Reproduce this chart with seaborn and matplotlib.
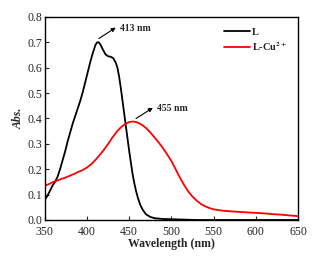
import numpy as np
import pandas as pd
import matplotlib
matplotlib.use("Agg")
import matplotlib.pyplot as plt
import seaborn as sns

# absorption spectra of L and L-Cu2+
wl_L = [350, 353, 356, 359, 362, 365, 368, 371, 374, 377, 380, 383, 386, 389,
        392, 395, 398, 401, 404, 407, 410, 412, 414, 416, 419, 422, 425, 428,
        431, 434, 436, 438, 440, 442, 444, 446, 448, 450, 452, 454, 456, 458,
        460, 463, 466, 470, 475, 480, 490, 500, 510, 520, 530, 650]
abs_L = [0.08, 0.095, 0.115, 0.135, 0.15, 0.17, 0.2, 0.235, 0.27, 0.31, 0.345,
         0.38, 0.41, 0.44, 0.47, 0.505, 0.545, 0.585, 0.625, 0.66, 0.69, 0.70,
         0.70, 0.69, 0.67, 0.652, 0.645, 0.643, 0.638, 0.62, 0.60, 0.565, 0.52,
         0.47, 0.42, 0.37, 0.32, 0.27, 0.225, 0.18, 0.145, 0.115, 0.09, 0.06,
         0.04, 0.022, 0.012, 0.007, 0.004, 0.003, 0.002, 0.001, 0.0, 0.0]

wl_Cu = [350, 355, 360, 365, 370, 375, 380, 385, 390, 395, 400, 405, 410, 415,
         420, 425, 430, 435, 440, 445, 450, 455, 460, 465, 470, 475, 480, 485,
         490, 495, 500, 505, 510, 515, 520, 525, 530, 535, 540, 545, 550, 560,
         570, 580, 590, 600, 610, 620, 630, 640, 650]
abs_Cu = [0.135, 0.142, 0.15, 0.156, 0.162, 0.168, 0.175, 0.182, 0.19, 0.197,
          0.207, 0.22, 0.237, 0.256, 0.277, 0.30, 0.325, 0.347, 0.365, 0.378,
          0.386, 0.388, 0.384, 0.375, 0.362, 0.345, 0.325, 0.305, 0.283, 0.258,
          0.232, 0.2, 0.167, 0.138, 0.112, 0.092, 0.076, 0.063, 0.054, 0.047,
          0.042, 0.037, 0.034, 0.032, 0.03, 0.028, 0.026, 0.023, 0.021, 0.018,
          0.015]

labels = ["L", r"L-Cu$^{\mathbf{2+}}$"]

df = pd.concat([
    pd.DataFrame({"Wavelength": wl_L, "Abs": abs_L, "Sample": labels[0]}),
    pd.DataFrame({"Wavelength": wl_Cu, "Abs": abs_Cu, "Sample": labels[1]}),
])

sns.set_style("ticks")
plt.rcParams["font.family"] = ["Liberation Serif", "DejaVu Serif"]
plt.rcParams["mathtext.fontset"] = "stix"

fig = plt.figure(figsize=(3.16, 2.57), dpi=100)
ax = fig.add_axes([0.142, 0.144, 0.801, 0.79])
sns.lineplot(data=df, x="Wavelength", y="Abs", hue="Sample",
             palette=["black", "red"], linewidth=1.3, ax=ax)

ax.set_xlim(350, 650)
ax.set_ylim(0, 0.8)
ax.set_xticks([350, 400, 450, 500, 550, 600, 650])
ax.set_yticks(np.arange(0, 0.81, 0.1))
ax.yaxis.set_major_formatter(matplotlib.ticker.FormatStrFormatter("%.1f"))
ax.tick_params(direction="in", length=3, width=0.8, labelsize=8.5)
ax.tick_params(axis="x", pad=4)
ax.tick_params(axis="y", pad=2)
for s in ax.spines.values():
    s.set_linewidth(1.0)
    s.set_color("black")

ax.set_xlabel("Wavelength (nm)", fontsize=8.5, fontweight="bold", labelpad=0)
ax.set_ylabel("Abs.", fontsize=8.5, fontweight="bold", style="italic", labelpad=2)

ax.legend(frameon=False, loc="upper right", handlelength=2.5,
          handletextpad=0.2, borderaxespad=0.6, labelspacing=0.3,
          prop={"weight": "bold", "size": 7.5})

ax.annotate("413 nm", xy=(439, 0.755), fontsize=7, fontweight="bold", va="center")
ax.annotate("", xy=(434, 0.758), xytext=(414, 0.715),
            arrowprops=dict(arrowstyle="-|>", color="black", lw=0.8,
                            mutation_scale=6, shrinkA=0, shrinkB=0))
ax.annotate("455 nm", xy=(483, 0.44), fontsize=7, fontweight="bold", va="center")
ax.annotate("", xy=(478, 0.442), xytext=(458, 0.40),
            arrowprops=dict(arrowstyle="-|>", color="black", lw=0.8,
                            mutation_scale=6, shrinkA=0, shrinkB=0))

fig.savefig("out.png", dpi=100)
